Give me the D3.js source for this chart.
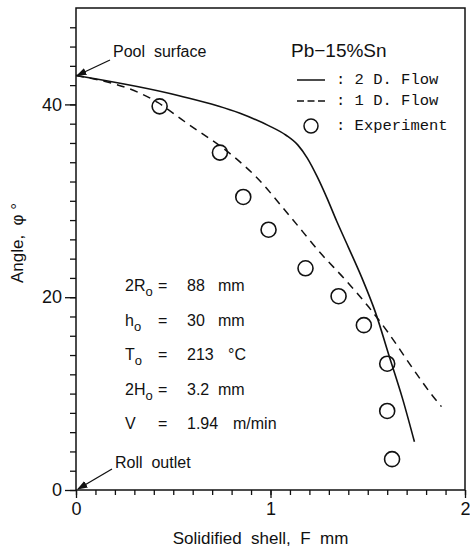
<!DOCTYPE html>
<html>
<head>
<meta charset="utf-8">
<script src="https://cdn.jsdelivr.net/npm/d3@7"></script>
<style>
  body { margin: 0; background: #fff; }
  text { font-family: "Liberation Sans", Arial, sans-serif; fill: #111; white-space: pre; }
  .mono { font-family: "Liberation Mono", "DejaVu Sans Mono", monospace; }
</style>
</head>
<body>
<svg id="chart" width="470" height="552"></svg>
<script>
// 2D flow calculation (solid line)
const flow2D = [
  [0, 43], [0.53, 40.9], [0.84, 39.1], [0.99, 37.8], [1.08, 36.8], [1.14, 35.8],
  [1.19, 34.4], [1.24, 32.5], [1.29, 30.3], [1.34, 27.9], [1.40, 25.2],
  [1.47, 22.0], [1.54, 18.4], [1.61, 13.9], [1.68, 9.4], [1.74, 5.0]
];
// 1D flow calculation (dashed line)
const flow1D = [
  [0, 43], [0.42, 40.2], [0.56, 38.2], [0.81, 34.6], [0.92, 32.6], [1.1, 28.4],
  [1.265, 24.4], [1.385, 21.8], [1.504, 19.0], [1.606, 16.3], [1.725, 12.8],
  [1.836, 9.7], [1.879, 8.65]
];
// experiment
const expX = [0.43, 0.74, 0.86, 0.99, 1.18, 1.35, 1.48, 1.60, 1.60, 1.625];
const expY = [39.8, 35.0, 30.4, 27.0, 23.0, 20.1, 17.1, 13.1, 8.2, 3.2];

const xTicks = [0, 1, 2];
const yTicks = [0, 20, 40];

const params = [
  { name: "2R", sub: "o", eq: "=", value: "88", unit: "mm" },
  { name: "h", sub: "o", eq: "=", value: "30", unit: "mm" },
  { name: "T", sub: "o", eq: "=", value: "213", unit: "°C" },
  { name: "2H", sub: "o", eq: "=", value: "3.2", unit: "mm" },
  { name: "V", sub: "", eq: "=", value: "1.94", unit: "m/min" }
];

const svg = d3.select("#chart");
const margin = {top: 8, right: 5, bottom: 62, left: 76};
const W = 470, H = 552;

const x = d3.scaleLinear().domain([0, 2]).range([margin.left, W - margin.right]);
const y = d3.scaleLinear().domain([0, 50]).range([H - margin.bottom, margin.top]);

// frame
svg.append("rect")
  .attr("x", x(0)).attr("y", y(50))
  .attr("width", x(2) - x(0)).attr("height", y(0) - y(50))
  .attr("fill", "none").attr("stroke", "#111").attr("stroke-width", 1.5);

// y axis
const yAx = svg.append("g").attr("transform", "translate(" + x(0) + ",0)")
  .call(d3.axisLeft(y).tickValues(d3.range(0, 50, 2)).tickSize(6).tickFormat(""));
yAx.append("g").call(d3.axisLeft(y).tickValues(yTicks).tickSize(11).tickPadding(3));
yAx.selectAll(".domain").remove();
yAx.selectAll("line").attr("stroke", "#111").attr("stroke-width", 1.3);
yAx.selectAll("text").style("font-family", "Liberation Sans, Arial, sans-serif")
  .style("font-size", "18px").attr("fill", "#111");

// x axis
const xAx = svg.append("g").attr("transform", "translate(0," + y(0) + ")")
  .call(d3.axisBottom(x).tickValues(d3.range(0, 2.01, 0.1)).tickSize(5).tickFormat(""));
xAx.append("g").call(d3.axisBottom(x).tickValues(xTicks).tickSize(8).tickPadding(4).tickFormat(d3.format("d")));
xAx.selectAll(".domain").remove();
xAx.selectAll("line").attr("stroke", "#111").attr("stroke-width", 1.3);
xAx.selectAll("text").style("font-family", "Liberation Sans, Arial, sans-serif")
  .style("font-size", "18px").attr("fill", "#111");

// axis titles
svg.append("text")
  .attr("x", (x(0) + x(2)) / 2 - 10).attr("y", 544)
  .attr("text-anchor", "middle").style("font-size", "17px")
  .text("Solidified  shell,  F  mm");

svg.append("text")
  .attr("transform", "translate(23," + 243 + ") rotate(-90)")
  .attr("text-anchor", "middle").style("font-size", "17px")
  .text("Angle,  φ °");

// curves
const line = d3.line().x(d => x(d[0])).y(d => y(d[1])).curve(d3.curveMonotoneX);

svg.append("path").datum(flow2D)
  .attr("d", line).attr("fill", "none").attr("stroke", "#111").attr("stroke-width", 1.6);

svg.append("path").datum(flow1D)
  .attr("d", line).attr("fill", "none").attr("stroke", "#111").attr("stroke-width", 1.5)
  .attr("stroke-dasharray", "8,6");

svg.selectAll(".exp").data(expX).enter().append("circle")
  .attr("class", "exp")
  .attr("cx", d => x(d)).attr("cy", (d, i) => y(expY[i])).attr("r", 7.5)
  .attr("fill", "none").attr("stroke", "#111").attr("stroke-width", 1.6);

// legend
svg.append("text").attr("x", 291).attr("y", 57).style("font-size", "19px").text("Pb−15%Sn");

const lg = svg.append("g");
lg.append("line").attr("x1", 297).attr("x2", 325).attr("y1", 80).attr("y2", 80)
  .attr("stroke", "#111").attr("stroke-width", 1.5);
lg.append("line").attr("x1", 297).attr("x2", 325).attr("y1", 101).attr("y2", 101)
  .attr("stroke", "#111").attr("stroke-width", 1.5).attr("stroke-dasharray", "7,3.5");
lg.append("circle").attr("cx", 311).attr("cy", 126).attr("r", 7)
  .attr("fill", "none").attr("stroke", "#111").attr("stroke-width", 1.5);
const legTxt = [": 2 D. Flow", ": 1 D. Flow", ": Experiment"];
lg.selectAll(".lt").data(legTxt).enter().append("text")
  .attr("class", "mono").attr("x", 336).attr("y", (d, i) => [84, 105, 130][i])
  .style("font-size", "15.5px").text(d => d);

// parameters block
const pg = svg.selectAll(".par").data(params).enter().append("g")
  .attr("transform", (d, i) => "translate(0," + (291 + i * 34.5) + ")")
  .style("font-size", "16px");
pg.append("text").attr("x", 125).each(function(d) {
  const t = d3.select(this);
  t.append("tspan").text(d.name);
  if (d.sub) t.append("tspan").attr("dy", 5).style("font-size", "13px").text(d.sub);
});
pg.append("text").attr("x", 158).text(d => d.eq);
pg.append("text").attr("x", 187).text(d => d.value);
pg.append("text").attr("x", (d, i) => i === 2 ? 228 : (i === 4 ? 233 : 218)).text(d => d.unit);

// annotations with arrows
svg.append("defs").append("marker")
  .attr("id", "arr").attr("viewBox", "0 0 10 10").attr("refX", 9).attr("refY", 5)
  .attr("markerWidth", 8).attr("markerHeight", 8).attr("orient", "auto")
  .append("path").attr("d", "M0,1.5 L10,5 L0,8.5 Z").attr("fill", "#111");

svg.append("text").attr("x", 113).attr("y", 57).style("font-size", "16px").text("Pool  surface");
svg.append("line").attr("x1", 110).attr("y1", 60).attr("x2", x(0) + 1).attr("y2", y(43))
  .attr("stroke", "#111").attr("stroke-width", 1.3).attr("marker-end", "url(#arr)");

svg.append("text").attr("x", 115).attr("y", 468).style("font-size", "16px").text("Roll  outlet");
svg.append("line").attr("x1", 112).attr("y1", 469).attr("x2", x(0) + 2).attr("y2", y(0) - 1)
  .attr("stroke", "#111").attr("stroke-width", 1.3).attr("marker-end", "url(#arr)");
</script>
</body>
</html>
